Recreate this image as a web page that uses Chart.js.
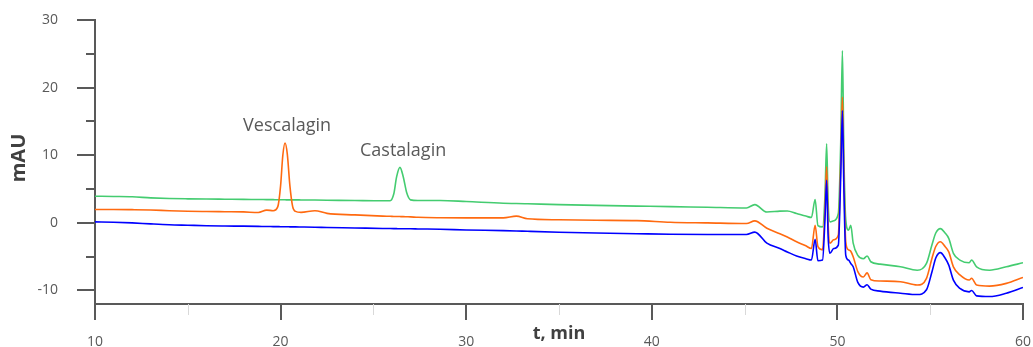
<!DOCTYPE html>
<html>
<head>
<meta charset="utf-8">
<script src="https://cdn.jsdelivr.net/npm/chart.js@4.4.1/dist/chart.umd.min.js"></script>
<style>
  html, body { margin: 0; padding: 0; background: #ffffff; }
  #wrap { width: 1033px; height: 347px; }
</style>
</head>
<body>
<div id="wrap"><canvas id="c" width="1033" height="347"></canvas></div>
<script>
// ---- Data (time in min, absorbance in mAU) ----
const times = [10, 11, 12, 13, 14, 15, 16, 17, 18, 18.8,
  19.25, 19.6, 19.85, 20.0, 20.12, 20.24, 20.36, 20.5, 20.65, 20.8,
  21.1, 21.85, 22.5, 24, 25.5, 25.9, 26.1, 26.25, 26.43, 26.6,
  26.8, 27.0, 27.4, 28.6, 30, 32, 32.7, 33.3, 35, 37,
  39.2, 41, 43, 45.1, 45.55, 46.2, 46.9, 47.3, 47.8, 48.3,
  48.6, 48.8, 48.95, 49.2, 49.33, 49.42, 49.5, 49.6, 49.8, 50.05,
  50.18, 50.27, 50.35, 50.45, 50.6, 50.72, 50.85, 51.1, 51.4, 51.6,
  51.8, 52.3, 53.4, 54.3, 54.8, 55.1, 55.3, 55.55, 55.8, 56.0,
  56.25, 56.6, 57.1, 57.23, 57.5, 58.2, 59.1, 60];

const greenSeries = [3.94, 3.9, 3.85, 3.7, 3.6, 3.55, 3.52, 3.5, 3.48, 3.45,
  3.44, 3.43, 3.42, 3.42, 3.41, 3.41, 3.4, 3.4, 3.4, 3.4,
  3.39, 3.37, 3.35, 3.3, 3.26, 3.27, 4.3, 6.8, 8.2, 6.9,
  4.4, 3.4, 3.3, 3.3, 3.15, 2.9, 2.86, 2.82, 2.7, 2.58,
  2.48, 2.4, 2.3, 2.2, 2.7, 1.6, 1.73, 1.75, 1.38, 1.0,
  0.8, 3.45, -0.4, -0.6, 4, 11.7, 3, 0.15, 0.3, 1.38,
  12, 25.5, 10, 0.5, -1.08, -0.35, -3.0, -4.8, -5.3, -4.9,
  -5.75, -6.1, -6.5, -7.0, -6.0, -3.2, -1.5, -0.85, -1.5, -2.3,
  -4.5, -5.5, -5.9, -5.5, -6.5, -7.0, -6.5, -5.9];

const orangeSeries = [1.98, 1.98, 1.95, 1.9, 1.8, 1.72, 1.68, 1.65, 1.62, 1.53,
  1.88, 1.8, 2.4, 5.5, 10, 11.8, 10.2, 5.5, 2.4, 1.7,
  1.55, 1.8, 1.4, 1.18, 1.0, 0.97, 0.95, 0.94, 0.93, 0.92,
  0.9, 0.88, 0.82, 0.76, 0.74, 0.74, 0.99, 0.6, 0.45, 0.38,
  0.33, 0.1, 0.0, -0.1, 0.3, -0.8, -1.6, -2.1, -2.8, -3.4,
  -3.8, -0.35, -3.5, -4.0, 2, 8.3, 0, -3.0, -2.5, -1.8,
  9, 18.6, 7, -2.8, -4.0, -4.2, -5.0, -7.2, -8.0, -7.4,
  -8.4, -8.6, -8.7, -9.2, -8.2, -5.2, -3.5, -2.8, -3.5, -4.3,
  -6.5, -7.7, -8.46, -8.2, -9.2, -9.35, -8.95, -8.07];

const blueSeries = [0.15, 0.1, 0.0, -0.15, -0.28, -0.35, -0.42, -0.46, -0.49, -0.52,
  -0.54, -0.55, -0.56, -0.57, -0.57, -0.58, -0.58, -0.59, -0.6, -0.6,
  -0.61, -0.64, -0.68, -0.75, -0.83, -0.84, -0.85, -0.86, -0.87, -0.87,
  -0.88, -0.88, -0.9, -0.95, -1.05, -1.15, -1.2, -1.25, -1.38, -1.5,
  -1.6, -1.68, -1.72, -1.72, -1.37, -3.0, -3.8, -4.3, -4.9, -5.3,
  -5.5, -2.45, -5.6, -5.5, 0.5, 6.3, -2, -4.5, -3.8, -3.3,
  7, 16.6, 5, -4.8, -5.5, -6.0, -6.5, -8.8, -9.5, -9.15,
  -9.8, -10.1, -10.4, -10.6, -9.9, -7.2, -5.2, -4.4, -5.2, -6.25,
  -8.46, -9.7, -10.2, -10.0, -10.8, -10.9, -10.4, -9.55];

const xTickValues = [10, 15, 20, 25, 30, 35, 40, 45, 50, 55, 60];
const yTickValues = [-10, -5, 0, 5, 10, 15, 20, 25, 30];

const peakLabels = ['Vescalagin', 'Castalagin'];
const peakLabelX = [20.35, 26.6];
const peakLabelY = [14.4, 10.7];

const xTitle = 't, min';
const yTitle = 'mAU';

// ---- Styling ----
const AXIS = '#595959';
const TEXT = '#595959';
const TITLE = '#404040';
const FONT = "'Open Sans', sans-serif";
const CLEAR = 'rgba(0,0,0,0)';

const toPts = (ys) => ys.map((y, i) => ({ x: times[i], y }));

const extras = {
  id: 'extras',
  afterDraw(chart) {
    const { ctx, chartArea, scales: { x, y } } = chart;
    ctx.save();
    // x tick marks
    xTickValues.forEach(v => {
      const px = Math.round(x.getPixelForValue(v));
      const major = v % 10 === 0;
      ctx.beginPath();
      ctx.strokeStyle = major ? AXIS : '#d9d9d9';
      ctx.lineWidth = major ? 2 : 1;
      const off = major ? 0 : 0.5;
      ctx.moveTo(px + off, chartArea.bottom);
      ctx.lineTo(px + off, chartArea.bottom + (major ? 16 : 11));
      ctx.stroke();
    });
    // y tick marks
    yTickValues.forEach(v => {
      const py = Math.round(y.getPixelForValue(v));
      const major = v % 10 === 0;
      ctx.beginPath();
      ctx.strokeStyle = AXIS;
      ctx.lineWidth = 2;
      ctx.moveTo(chartArea.left - (major ? 18 : 9), py);
      ctx.lineTo(chartArea.left, py);
      ctx.stroke();
    });
    // axis titles
    ctx.fillStyle = TITLE;
    ctx.textAlign = 'center';
    ctx.textBaseline = 'middle';
    ctx.font = "bold 18px " + FONT;
    ctx.fillText(xTitle, (chartArea.left + chartArea.right) / 2, 334);
    ctx.save();
    ctx.translate(19, 158);
    ctx.rotate(-Math.PI / 2);
    ctx.font = "bold 20px " + FONT;
    ctx.fillText(yTitle, 0, 0);
    ctx.restore();
    // peak annotations
    ctx.fillStyle = TEXT;
    ctx.font = "18px " + FONT;
    peakLabels.forEach((t, i) => {
      ctx.fillText(t, x.getPixelForValue(peakLabelX[i]), y.getPixelForValue(peakLabelY[i]));
    });
    ctx.restore();
  }
};

const ds = (label, data, color) => ({
  label, data: toPts(data), borderColor: color, backgroundColor: color,
  borderWidth: 1.6, pointRadius: 0, fill: false,
  cubicInterpolationMode: 'monotone'
});

new Chart(document.getElementById('c'), {
  type: 'line',
  data: {
    datasets: [
      ds('Blue', blueSeries, '#0000ff'),
      ds('Orange', orangeSeries, '#ff6a10'),
      ds('Green', greenSeries, '#44cc70')
    ]
  },
  options: {
    responsive: false,
    animation: false,
    events: [],
    layout: { padding: { left: 0, top: 20, right: 10, bottom: 0 } },
    plugins: { legend: { display: false }, tooltip: { enabled: false } },
    scales: {
      x: {
        type: 'linear', min: 10, max: 60,
        afterBuildTicks: s => { s.ticks = xTickValues.map(v => ({ value: v })); },
        afterFit: s => { s.height = 43; },
        grid: { display: true, drawOnChartArea: false, drawTicks: true, tickLength: 30, color: CLEAR },
        border: { display: true, color: AXIS, width: 2 },
        ticks: {
          autoSkip: false, maxRotation: 0, padding: 0, color: TEXT,
          font: { family: FONT, size: 14 },
          callback: v => (v % 10 === 0 ? String(v) : '')
        }
      },
      y: {
        type: 'linear', min: -12, max: 30,
        afterBuildTicks: s => { s.ticks = yTickValues.map(v => ({ value: v })); },
        afterFit: s => { s.width = 95; },
        grid: { display: true, drawOnChartArea: false, drawTicks: true, tickLength: 37, color: CLEAR },
        border: { display: true, color: AXIS, width: 2 },
        ticks: {
          padding: 0, color: TEXT,
          font: { family: FONT, size: 14 },
          callback: v => (v % 10 === 0 ? String(v) : '')
        }
      }
    }
  },
  plugins: [extras]
});
</script>
</body>
</html>
